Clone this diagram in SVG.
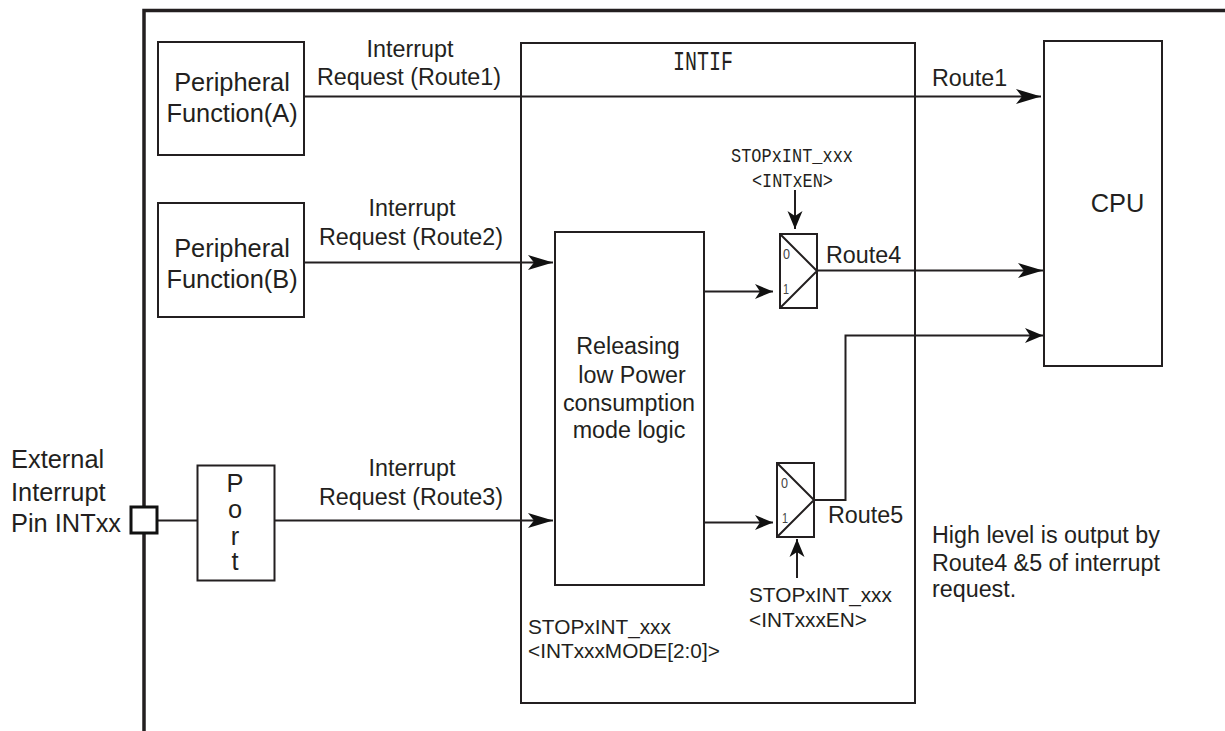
<svg xmlns="http://www.w3.org/2000/svg" width="1225" height="731" viewBox="0 0 1225 731">
<style>
text{font-family:"Liberation Sans",Arial,sans-serif;font-size:23.300px;fill:#231f20}
.s{font-size:20.800px}
.b{font-size:25.400px}
.m{font-family:"Liberation Mono",monospace;font-size:21px}
.c{text-anchor:middle}
.box{fill:#fff;stroke:#231f20;stroke-width:2}
.ln{fill:none;stroke:#231f20;stroke-width:2}
.d{font-size:15px;fill:#444}
</style>
<defs>
<marker id="a" markerUnits="userSpaceOnUse" markerWidth="26" markerHeight="16" refX="25" refY="8" orient="auto"><path d="M0 0.500L25 8L0 15.500L6 8Z" fill="#111"/></marker>
<marker id="h" markerUnits="userSpaceOnUse" markerWidth="19" markerHeight="16" refX="18" refY="8" orient="auto"><path d="M0 0.500L18 8L0 15.500L5 8Z" fill="#111"/></marker>
</defs>
<g id="frame"><path d="M1225 10.500H144V731" fill="none" stroke="#231f20" stroke-width="3.500"/></g>
<g id="intif"><rect class="box" x="521" y="43" width="394" height="660"/><text class="m" x="673" y="69.500" style="font-size:27px" textLength="60" lengthAdjust="spacingAndGlyphs">INTIF</text></g>
<g id="connectors">
<path class="ln" marker-end="url(#a)" d="M304 96.500H1041"/>
<path class="ln" marker-end="url(#a)" d="M304 262.500H553"/>
<path class="ln" d="M158 520.500H197"/>
<path class="ln" marker-end="url(#a)" d="M274 520.500H553"/>
<path class="ln" marker-end="url(#h)" d="M704 291.500H773"/>
<path class="ln" marker-end="url(#h)" d="M704 522.500H773"/>
<path class="ln" marker-end="url(#a)" d="M817 270.500H1043"/>
<path class="ln" marker-end="url(#h)" d="M814 500H845.500V335.500H1043"/>
<path class="ln" marker-end="url(#h)" d="M795 190V229"/>
<path class="ln" marker-end="url(#h)" d="M797 578V539"/>
</g>
<g id="periph-a"><rect class="box" x="158" y="42" width="146" height="113"/><text class="b c" x="232" y="91">Peripheral</text><text class="b c" x="232" y="122">Function(A)</text></g>
<g id="periph-b"><rect class="box" x="158" y="203" width="146" height="114"/><text class="b c" x="232" y="257">Peripheral</text><text class="b c" x="232" y="288">Function(B)</text></g>
<g id="port"><rect class="box" x="197.500" y="465.500" width="77" height="115"/><text class="b c" x="235" y="492">P</text><text class="b c" x="235" y="518">o</text><text class="b c" x="235" y="545">r</text><text class="b c" x="235" y="570">t</text></g>
<g id="pin"><rect x="131" y="507" width="26" height="26" fill="#fff" stroke="#111" stroke-width="3"/></g>
<g id="logic"><rect class="box" x="555" y="232" width="149" height="353"/><text class="c" x="628" y="354">Releasing</text><text class="c" x="632" y="383">low Power</text><text class="c" x="629" y="411">consumption</text><text class="c" x="629" y="438">mode logic</text></g>
<g id="cpu"><rect class="box" x="1044" y="41" width="118" height="325"/><text class="b c" x="1117.500" y="212">CPU</text></g>
<g id="mux4"><rect class="box" x="780" y="234" width="37" height="74"/><path class="ln" d="M780 234L817 271L780 308"/><text class="d" x="783" y="259" textLength="7" lengthAdjust="spacingAndGlyphs">0</text><text class="d" x="783" y="294" textLength="6" lengthAdjust="spacingAndGlyphs">1</text></g>
<g id="mux5"><rect class="box" x="777" y="463" width="37" height="74"/><path class="ln" d="M777 463L814 500L777 537"/><text class="d" x="781" y="488" textLength="7" lengthAdjust="spacingAndGlyphs">0</text><text class="d" x="782" y="523" textLength="6" lengthAdjust="spacingAndGlyphs">1</text></g>
<g id="labels">
<text class="c" x="410" y="57">Interrupt</text><text class="c" x="409" y="85">Request (Route1)</text>
<text class="c" x="412" y="216">Interrupt</text><text class="c" x="411" y="245">Request (Route2)</text>
<text class="c" x="412" y="476">Interrupt</text><text class="c" x="411" y="505">Request (Route3)</text>
<text x="932" y="86">Route1</text>
<text x="826" y="263">Route4</text>
<text x="828" y="523">Route5</text>
<text class="m" x="731" y="162" textLength="122" lengthAdjust="spacingAndGlyphs">STOPxINT_xxx</text>
<text class="m" x="752" y="187" textLength="81" lengthAdjust="spacingAndGlyphs">&lt;INTxEN&gt;</text>
<text class="s" x="749" y="602">STOPxINT_xxx</text><text class="s" x="749" y="627">&lt;INTxxxEN&gt;</text>
<text class="s" x="528" y="634">STOPxINT_xxx</text><text class="s" x="528" y="658">&lt;INTxxxMODE[2:0]&gt;</text>
<text x="932" y="543">High level is output by</text><text x="932" y="571">Route4 &amp;5 of interrupt</text><text x="932" y="597">request.</text>
<text class="b" x="11" y="468">External</text><text class="b" x="11" y="501">Interrupt</text><text class="b" x="11" y="532">Pin INTxx</text>
</g>
</svg>
